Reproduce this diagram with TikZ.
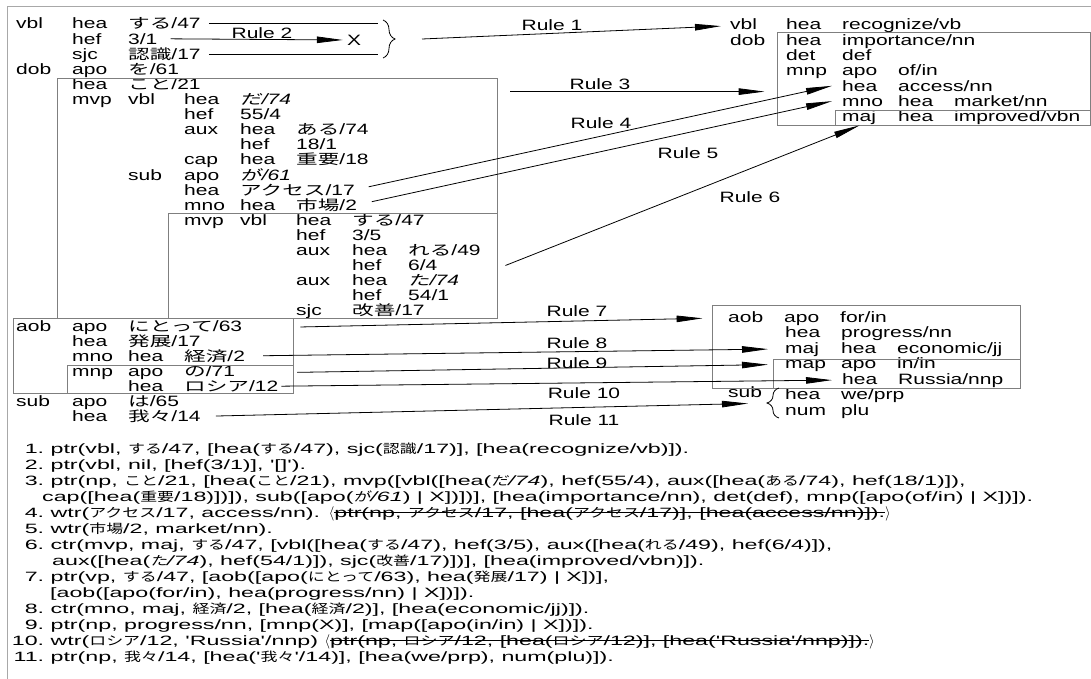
\documentclass[tikz,border=0pt]{standalone}
\usepackage{fontspec}
\setmainfont{Liberation Sans}
\newfontfamily\treefont{Liberation Sans}[FakeStretch=1.4]
\newfontfamily\treejp{Noto Sans CJK JP}[FakeStretch=1.55,Scale=0.93,AutoFakeSlant=0.2]
\newfontfamily\notefont{Liberation Sans}[FakeStretch=1.72]
\newfontfamily\notejp{Noto Sans CJK JP}[FakeStretch=1.35,Scale=0.93,AutoFakeSlant=0.2]
\usetikzlibrary{arrows.meta,decorations.pathreplacing,fit}
\definecolor{boxgray}{HTML}{7F7F7F}
\definecolor{framegray}{HTML}{A8A8A8}

\newcommand\jpfam{\treejp}
\newcommand\ja[1]{{\jpfam#1}}
\newcommand\tcol[1]{\makebox[56pt][l]{#1}}
\newcommand\lnum[1]{\makebox[36pt][r]{#1}\ }
\newsavebox\strikebox
\newcommand\strike[1]{\sbox\strikebox{#1}\rlap{\rule[4.2pt]{\wd\strikebox}{0.8pt}}\usebox\strikebox}

\begin{document}
\begin{tikzpicture}[x=1pt, y=-1pt,
  tcell/.style={anchor=base west, inner sep=0pt, font=\fontsize{15}{15}\treefont},
  noteline/.style={anchor=base west, inner sep=0pt,
                   font=\fontsize{13.5}{16}\notefont\let\jpfam\notejp},
  rulelbl/.style={inner sep=0pt, font=\fontsize{15}{15}\treefont},
  cbox/.style={draw=boxgray, line width=0.8pt, inner sep=0pt},
  conn/.style={line width=0.8pt},
  rarrow/.style={conn, -{Triangle[length=26pt,width=6.5pt]}},
  curly/.style={decorate, decoration={brace, amplitude=#1}, line width=0.8pt},
  curly/.default=10pt
]
\useasboundingbox (0,0) rectangle (1091,679);
\draw[framegray, line width=1pt] (7,679) -- (7,7) -- (1091,7);

%--- Source tree ---
\node[tcell] (r0)  at (16,29)    {\tcol{vbl}\tcol{hea}\ja{する}/47};
\node[tcell] (r1)  at (72,44.1)  {\tcol{hef}3/1};
\node[tcell] (r2)  at (72,59.2)  {\tcol{sjc}\ja{認識}/17};
\node[tcell] (r3)  at (16,74.3)  {\tcol{dob}\tcol{apo}\ja{を}/61};
\node[tcell] (r4)  at (72,89.4)  {\tcol{hea}\ja{こと}/21};
\node[tcell] (r5)  at (72,104.5) {\tcol{mvp}\tcol{vbl}\tcol{hea}\textit{\ja{だ}/74}};
\node[tcell] (r6)  at (184,119.6) {\tcol{hef}55/4};
\node[tcell] (r7)  at (184,134.7) {\tcol{aux}\tcol{hea}\ja{ある}/74};
\node[tcell] (r8)  at (240,149.8) {\tcol{hef}18/1};
\node[tcell] (r9)  at (184,164.9) {\tcol{cap}\tcol{hea}\ja{重要}/18};
\node[tcell] (r10) at (128,180)   {\tcol{sub}\tcol{apo}\textit{\ja{が}/61}};
\node[tcell] (r11) at (184,195.1) {\tcol{hea}\ja{アクセス}/17};
\node[tcell] (r12) at (184,210.2) {\tcol{mno}\tcol{hea}\ja{市場}/2};
\node[tcell] (r13) at (184,225.3) {\tcol{mvp}\tcol{vbl}\tcol{hea}\ja{する}/47};
\node[tcell] (r14) at (296,240.4) {\tcol{hef}3/5};
\node[tcell] (r15) at (296,255.5) {\tcol{aux}\tcol{hea}\ja{れる}/49};
\node[tcell] (r16) at (352,270.6) {\tcol{hef}6/4};
\node[tcell] (r17) at (296,285.7) {\tcol{aux}\tcol{hea}\textit{\ja{た}/74}};
\node[tcell] (r18) at (352,300.8) {\tcol{hef}54/1};
\node[tcell] (r19) at (296,315.9) {\tcol{sjc}\ja{改善}/17};
\node[tcell] (r20) at (16,331)    {\tcol{aob}\tcol{apo}\ja{にとって}/63};
\node[tcell] (r21) at (72,346.1)  {\tcol{hea}\ja{発展}/17};
\node[tcell] (r22) at (72,361.2)  {\tcol{mno}\tcol{hea}\ja{経済}/2};
\node[tcell] (r23) at (72,376.3)  {\tcol{mnp}\tcol{apo}\ja{の}/71};
\node[tcell] (r24) at (128,391.4) {\tcol{hea}\ja{ロシア}/12};
\node[tcell] (r25) at (16,406.5)  {\tcol{sub}\tcol{apo}\ja{は}/65};
\node[tcell] (r26) at (72,421.6)  {\tcol{hea}\ja{我々}/14};

\node[cbox, fit={(57,78) (497,318)}]  (bigbox) {};
\node[cbox, fit={(168,213) (497,318)}] (mvpbox) {};
\node[cbox, fit={(13,318) (293,393)}]  (aobbox) {};
\node[cbox, fit={(67,365) (293,393)}]  (mnpbox) {};

%--- Target: recognize ---
\node[tcell] (q0) at (730,30)    {\tcol{vbl}\tcol{hea}recognize/vb};
\node[tcell] (q1) at (730,45.3)  {\tcol{dob}\tcol{hea}importance/nn};
\node[tcell] (q2) at (786,60.6)  {\tcol{det}def};
\node[tcell] (q3) at (786,75.9)  {\tcol{mnp}\tcol{apo}of/in};
\node[tcell] (q4) at (842,91.2)  {\tcol{hea}access/nn};
\node[tcell] (q5) at (842,106.5) {\tcol{mno}\tcol{hea}market/nn};
\node[tcell] (q6) at (842,121.8) {\tcol{maj}\tcol{hea}improved/vbn};
\node[cbox, fit={(777,32) (1090,125)}]  (dobbox) {};
\node[cbox, fit={(835,110) (1090,125)}] (majbox) {};

%--- Target: progress ---
\node[tcell] (p0) at (728,322)   {\tcol{aob}\tcol{apo}for/in};
\node[tcell] (p1) at (785,337.5) {\tcol{hea}progress/nn};
\node[tcell] (p2) at (785,353)   {\tcol{maj}\tcol{hea}economic/jj};
\node[tcell] (p3) at (785,368.5) {\tcol{map}\tcol{apo}in/in};
\node[tcell] (p4) at (842,384)   {\tcol{hea}Russia/nnp};
\node[tcell] (psub) at (728,397.5) {sub};
\node[tcell] (p5) at (785,399.5) {\tcol{hea}we/prp};
\node[tcell] (p6) at (785,415)   {\tcol{num}plu};
\node[cbox, fit={(712,305) (1020,388)}] (aobbox2) {};
\node[cbox, fit={(773,359) (1020,388)}] (mapbox) {};
\draw[curly=12pt] (779,418) -- (779,388);

%--- Rules 1 and 2 ---
\coordinate (brx) at (378,0);
\draw[conn, shorten <=8pt] (r0.east) -- (r0.east -| brx);
\draw[conn, shorten <=8pt] (r2.east) -- (r2.east -| brx);
\node[rulelbl] (xmark) at (354,40) {X};
\draw[rarrow, shorten <=13pt, shorten >=4pt] (r1.east) -- (xmark.west);
\draw[curly=12pt] (383,20) -- (383,58);
\coordinate (brtip) at (395,39);
\draw[rarrow] ([xshift=27pt]brtip) -- ([xshift=-9pt]q0.west);

%--- Rules 3 to 6 ---
\coordinate (r3s) at ([shift={(13,14)}]bigbox.north east);
\draw[rarrow, shorten >=12pt] (r3s) -- (r3s -| dobbox.west);
\draw[rarrow, shorten <=14pt] (r11.east) -- ([xshift=-10pt]q4.west);
\draw[rarrow, shorten <=15pt] (r12.east) -- ([xshift=-10pt]q5.west);
\draw[rarrow] ([xshift=8pt]mvpbox.east) -- ([xshift=25pt]majbox.south west);

%--- Rules 7 to 11 ---
\draw[rarrow, shorten <=7pt, shorten >=9pt] (r20.east -| aobbox.east) -- (p0.west -| aobbox2.west);
\draw[rarrow, shorten <=18pt] (r22.east) -- ([xshift=-17pt]p2.west);
\draw[rarrow, shorten <=4pt] (r23.east -| mnpbox.east) -- ([xshift=-17pt]p3.west);
\draw[rarrow, shorten <=3pt] (r24.east) -- ([xshift=-10pt]p4.west);
\draw[rarrow, shorten <=15pt] (r26.east) -- ([xshift=20pt,yshift=-6pt]psub.base west);

%--- Rule labels ---
\node[rulelbl] (lr1)  at (552,25)  {Rule 1};
\node[rulelbl] (lr2)  at (262,33)  {Rule 2};
\node[rulelbl] (lr3)  at (600,84)  {Rule 3};
\node[rulelbl] (lr4)  at (601,123) {Rule 4};
\node[rulelbl] (lr5)  at (688,153) {Rule 5};
\node[rulelbl] (lr6)  at (750,197) {Rule 6};
\node[rulelbl] (lr7)  at (577,311) {Rule 7};
\node[rulelbl] (lr8)  at (577,343) {Rule 8};
\node[rulelbl] (lr9)  at (577,363) {Rule 9};
\node[rulelbl] (lr10) at (584,393) {Rule 10};
\node[rulelbl] (lr11) at (584,420) {Rule 11};

%--- Rule listing ---
\node[noteline] (n1)  at (8,453) {\lnum{1.}ptr(vbl, \ja{する}/47, [hea(\ja{する}/47), sjc(\ja{認識}/17)], [hea(recognize/vb)]).};
\node[noteline] (n2)  at (8,469) {\lnum{2.}ptr(vbl, nil, [hef(3/1)], '[]').};
\node[noteline] (n3)  at (8,485) {\lnum{3.}ptr(np, \ja{こと}/21, [hea(\ja{こと}/21), mvp([vbl([hea(\textit{\ja{だ}/74}), hef(55/4), aux([hea(\ja{ある}/74), hef(18/1)]),};
\node[noteline] (n3b) at (42,501) {cap([hea(\ja{重要}/18)])]), sub([apo(\textit{\ja{が}/61}) | X])])], [hea(importance/nn), det(def), mnp([apo(of/in) | X])]).};
\node[noteline] (n4)  at (8,517) {\lnum{4.}wtr(\ja{アクセス}/17, access/nn). $\langle$\strike{ptr(np, \ja{アクセス}/17, [hea(\ja{アクセス}/17)], [hea(access/nn)]).}$\rangle$};
\node[noteline] (n5)  at (8,533) {\lnum{5.}wtr(\ja{市場}/2, market/nn).};
\node[noteline] (n6)  at (8,549) {\lnum{6.}ctr(mvp, maj, \ja{する}/47, [vbl([hea(\ja{する}/47), hef(3/5), aux([hea(\ja{れる}/49), hef(6/4)]),};
\node[noteline] (n6b) at (52,565) {aux([hea(\textit{\ja{た}/74}), hef(54/1)]), sjc(\ja{改善}/17)])], [hea(improved/vbn)]).};
\node[noteline] (n7)  at (8,581) {\lnum{7.}ptr(vp, \ja{する}/47, [aob([apo(\ja{にとって}/63), hea(\ja{発展}/17) | X])],};
\node[noteline] (n7b) at (50,597) {[aob([apo(for/in), hea(progress/nn) | X])]).};
\node[noteline] (n8)  at (8,613) {\lnum{8.}ctr(mno, maj, \ja{経済}/2, [hea(\ja{経済}/2)], [hea(economic/jj)]).};
\node[noteline] (n9)  at (8,629) {\lnum{9.}ptr(np, progress/nn, [mnp(X)], [map([apo(in/in) | X])]).};
\node[noteline] (n10) at (8,645) {\lnum{10.}wtr(\ja{ロシア}/12, 'Russia'/nnp) $\langle$\strike{ptr(np, \ja{ロシア}/12, [hea(\ja{ロシア}/12)], [hea('Russia'/nnp)]).}$\rangle$};
\node[noteline] (n11) at (8,661) {\lnum{11.}ptr(np, \ja{我々}/14, [hea('\ja{我々}'/14)], [hea(we/prp), num(plu)]).};
\end{tikzpicture}
\end{document}
